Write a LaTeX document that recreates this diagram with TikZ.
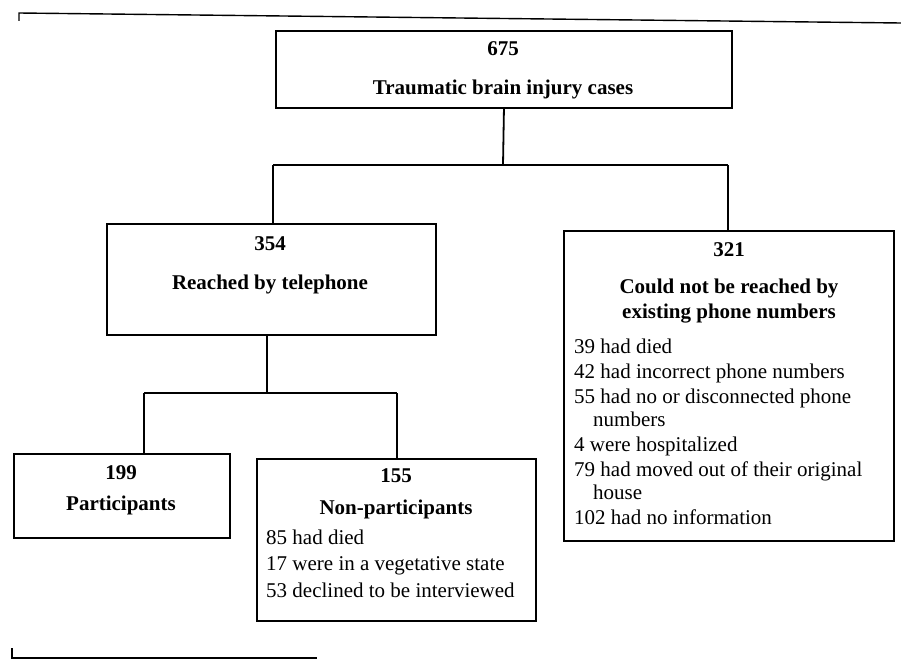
\documentclass[tikz,border=0pt]{standalone}
\usepackage{fontspec}
\setmainfont{Liberation Serif}
\begin{document}
\begin{tikzpicture}[x=1pt,y=-1pt,
  box/.style={draw, line width=1.9pt, inner sep=0pt, anchor=north west},
  conn/.style={line width=1.8pt},
  framel/.style={line width=1.4pt},
  head/.style={font=\fontsize{21}{25}\selectfont\bfseries, anchor=base, inner sep=0pt},
  body/.style={font=\fontsize{21}{25}\selectfont, anchor=base west, inner sep=0pt},
]
\fill[white] (0,0) rectangle (901,661);
\useasboundingbox (0,0) rectangle (901,661);

% frame corners
\coordinate (ftl) at (19,13);
\coordinate (ftld) at (19,21);
\coordinate (ftr) at (901,23);
\coordinate (fbl) at (12,658);
\coordinate (fblu) at (12,648);
\coordinate (fbr) at (317,658);
\draw[framel] (ftld) -- (ftl) -- (ftr);
\draw[framel] (fblu) -- (fbl) -- (fbr);

% boxes
\node[box, minimum width=456pt, minimum height=77pt] (top) at (275,30) {};
\node[box, minimum width=329pt, minimum height=111pt] (reach) at (106,223) {};
\node[box, minimum width=330pt, minimum height=310pt] (noreach) at (563,230) {};
\node[box, minimum width=216pt, minimum height=84pt] (part) at (13,453) {};
\node[box, minimum width=279pt, minimum height=162pt] (nonpart) at (256,458) {};

% connectors
\coordinate (j1) at (503,165);
\coordinate (j1L) at (273,165);
\coordinate (j1R) at (728,165);
\draw[conn] (top.south) -- (j1);
\draw[conn] (j1L) -- (j1R);
\draw[conn] (j1L) -- (j1L |- reach.north);
\draw[conn] (j1R) -- (j1R |- noreach.north);

\coordinate (j2) at (267,393);
\coordinate (j2L) at (144,393);
\coordinate (j2R) at (397,393);
\draw[conn] (j2 |- reach.south) -- (j2);
\draw[conn] (j2L) -- (j2R);
\draw[conn] (j2L) -- (j2L |- part.north);
\draw[conn] (j2R) -- (j2R |- nonpart.north);

% texts: top
\node[head] (t675) at (503,56) {675};
\node[head] (ttbi) at (503,94) {Traumatic brain injury cases};

% reached
\node[head] (t354) at (270,250) {354};
\node[head] (treach) at (270,289) {Reached by telephone};

% not reached
\node[head] (t321) at (729,256) {321};
\node[head] (tc1) at (729,293) {Could not be reached by};
\node[head] (tc2) at (729,318) {existing phone numbers};
\node[body] (b1) at (574,353) {39 had died};
\node[body] (b2) at (574,378) {42 had incorrect phone numbers};
\node[body] (b3) at (574,403) {55 had no or disconnected phone};
\node[body] (b3b) at (593,426) {numbers};
\node[body] (b4) at (574,451) {4 were hospitalized};
\node[body] (b5) at (574,476) {79 had moved out of their original};
\node[body] (b5b) at (593,499) {house};
\node[body] (b6) at (574,524) {102 had no information};

% participants
\node[head] (t199) at (121,479) {199};
\node[head] (tpart) at (121,510) {Participants};

% non-participants
\node[head] (t155) at (396,482) {155};
\node[head] (tnon) at (396,514) {Non-participants};
\node[body] (n1) at (266,544) {85 had died};
\node[body] (n2) at (266,570) {17 were in a vegetative state};
\node[body] (n3) at (266,597) {53 declined to be interviewed};
\end{tikzpicture}
\end{document}
